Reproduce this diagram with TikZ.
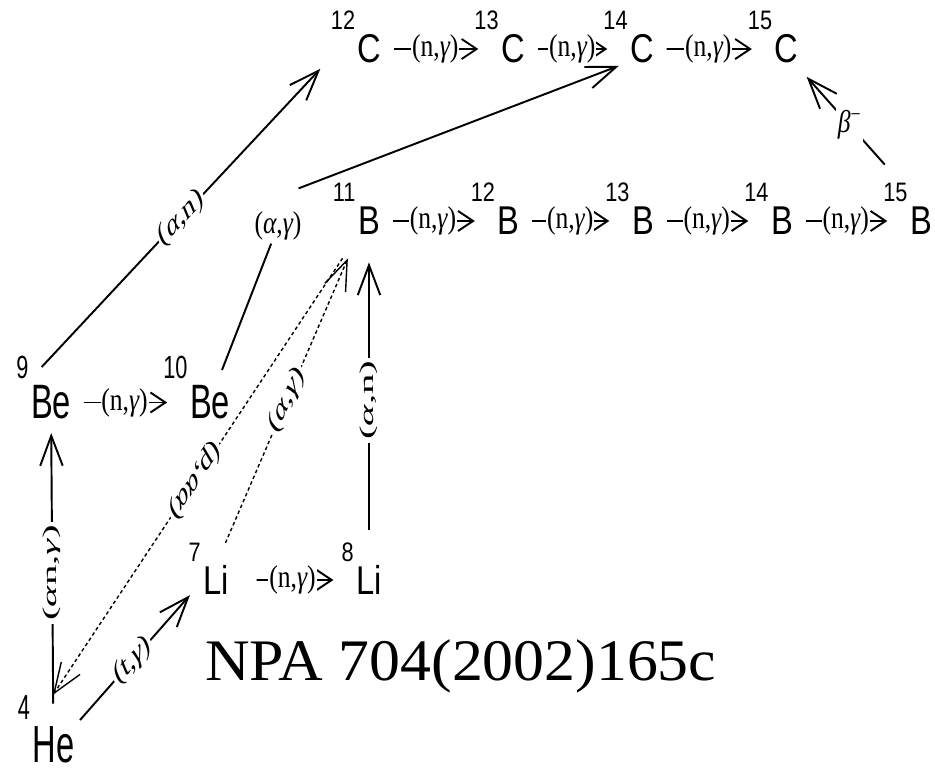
\documentclass[tikz,border=0pt]{standalone}
\usepackage{fontspec}
\usetikzlibrary{arrows.meta}

\newfontfamily\nucfam[FakeStretch=1.3]{Liberation Sans}
\newfontfamily\lblfam[FakeStretch=1.3]{Liberation Serif}
\newfontfamily\reffam[FakeStretch=1.05]{Liberation Serif}
\newcommand\nucfont{\nucfam\fontsize{14.3}{16}\selectfont}
\newcommand\supfont{\nucfam\fontsize{9.5}{10}\selectfont}
\newcommand\lblfont{\lblfam\fontsize{11.2}{12}\selectfont}
\newcommand\reffont{\reffam\fontsize{33.5}{36}\selectfont}
\newcommand\gam{{\itshape γ}}
\newcommand\alp{{\itshape α}}
% mass number hangs to the upper left of the symbol
\newcommand\iso[2]{\llap{\raisebox{\dimexpr\fontcharht\font`C+2pt\relax}[0pt][0pt]{\supfont #1}\kern1.5pt}#2}

\tikzset{
  nuc/.style={font=\nucfont, inner sep=0pt, yscale=1.6},
  lbl/.style={font=\lblfont, fill=white, inner sep=1pt, yscale=1.6},
  rl/.style={lbl, inner sep=0.5pt, pos=0.45},
  rx/.style={-{Straight Barb[length=0.3cm,width=0.4cm]}, line width=1.1pt,
             shorten <=0.25cm, shorten >=0.45cm},
  big/.style={-{Straight Barb[length=0.6cm,width=0.45cm]}, line width=1.1pt},
  dots/.style={big, line width=0.8pt, dash pattern=on 2pt off 1.6pt}
}

\begin{document}
\begin{tikzpicture}[x=0.02cm, y=-0.02cm]
\useasboundingbox (0,0) rectangle (935,774);

%--- nuclides ---
\node[nuc] (C12) at (369.5,49) {\iso{12}{C}};
\node[nuc] (C13) at (513,49) {\iso{13}{C}};
\node[nuc] (C14) at (642,49) {\iso{14}{C}};
\node[nuc] (C15) at (786.5,49) {\iso{15}{C}};

\node[nuc] (B11) at (369,221) {\iso{11}{B}};
\node[nuc] (B12) at (508.5,221) {\iso{12}{B}};
\node[nuc] (B13) at (643,221) {\iso{13}{B}};
\node[nuc] (B14) at (782,221) {\iso{14}{B}};
\node[nuc] (B15) at (921,221) {\iso{15}{B}};

\node[nuc, yscale=1.2] (Be9) at (51,402.5) {\iso{9}{Be}};
\node[nuc, yscale=1.2] (Be10) at (210,402.5) {\iso{10}{Be}};
\node[nuc] (Li7) at (216,580) {\iso{7}{Li}};
\node[nuc] (Li8) at (369,580) {\iso{8}{Li}};
\node[nuc, yscale=1.3] (He4) at (53.5,745) {\iso{4}{He}};

%--- neutron captures ---
\draw[rx] (C12) -- node[rl]{(n,\gam)} (C13);
\draw[rx] (C13) -- node[rl]{(n,\gam)} (C14);
\draw[rx] (C14) -- node[rl]{(n,\gam)} (C15);
\draw[rx] (B11) -- node[rl]{(n,\gam)} (B12);
\draw[rx] (B12) -- node[rl]{(n,\gam)} (B13);
\draw[rx] (B13) -- node[rl]{(n,\gam)} (B14);
\draw[rx] (B14) -- node[rl]{(n,\gam)} (B15);
\draw[rx] (Be9) -- node[rl]{(n,\gam)} (Be10);
\draw[rx, shorten <=0.55cm] (Li7) -- node[rl, pos=0.5]{(n,\gam)} (Li8);

%--- alpha and other captures ---
\draw[big] ([shift={(11,-18)}]Be9.north west) -- node[lbl, rotate=33.6]{(\alp,n)} ([shift={(-37,5)}]C12.south west);
\node[lbl] (ag) at (278,226) {(\alp,\gam)};
\draw[line width=1.1pt] ([shift={(12,-15)}]Be10.north) -- (ag);
\draw[big] ([shift={(-5,-20)}]ag.north east) -- ([shift={(-11,2)}]C14.south west);
\draw[big, shorten <=0.7cm, shorten >=0.54cm] (Li8) -- node[lbl, rotate=90]{(\alp,n)} (B11);
\draw[big, shorten <=0.45cm, shorten >=0.26cm] (He4) -- node[lbl, rotate=90]{(\alp n,\gam)} (Be9);
\draw[big, shorten <=0.16cm] (He4.north east) -- node[lbl, rotate=33.5]{(t,\gam)} ([xshift=-0.26cm]Li7.south west);

% dotted branches meeting at 11B
\draw[dots, shorten <=0.48cm, shorten >=0.5cm] (Li7.north) -- node[lbl, rotate=53.3]{(\alp,\gam)} (B11.south west);
\draw[dots, shorten <=0.55cm, shorten >=0.75cm] (B11.south west) -- node[lbl, rotate=223.3]{(p,\alp\alp)} (He4.north west);

% beta decay
\draw[big] ([shift={(-25,-42)}]B15.north west) -- node[lbl, pos=0.45]{\textit{β}\textsuperscript{−}} ([shift={(8,13)}]C15.south east);

%--- reference ---
\node[font=\reffont, anchor=base west, inner sep=0pt] (ref) at (205,680) {NPA 704(2002)165c};
\end{tikzpicture}
\end{document}
